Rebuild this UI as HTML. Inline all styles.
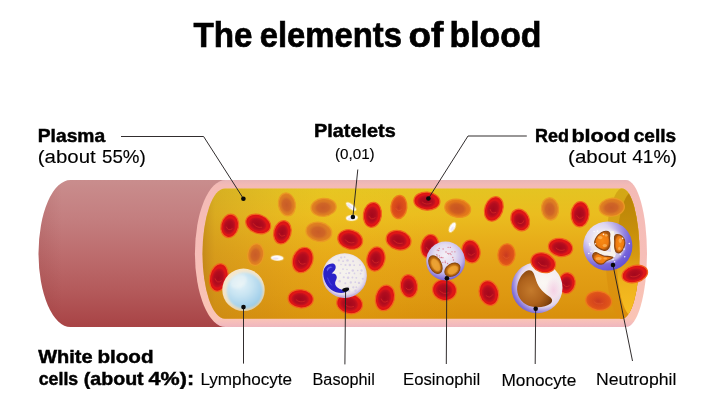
<!DOCTYPE html>
<html><head><meta charset="utf-8"><title>The elements of blood</title>
<style>
html,body{margin:0;padding:0;background:#fff;}
body{width:714px;height:410px;overflow:hidden;font-family:"Liberation Sans",sans-serif;}
svg{display:block;}
text{font-family:"Liberation Sans",sans-serif;fill:#000;}
.b{font-weight:bold;stroke:#000;stroke-width:0.45px;}
.t{stroke-width:0.7px;}
.r{stroke:#000;stroke-width:0.12px;}
</style></head><body>
<svg width="714" height="410" viewBox="0 0 714 410">
<defs>
<linearGradient id="gTube" x1="0" y1="0" x2="0" y2="1">
 <stop offset="0" stop-color="#c98d8d"/><stop offset="0.25" stop-color="#c47f80"/>
 <stop offset="0.5" stop-color="#bd6d6e"/><stop offset="0.75" stop-color="#b45a5b"/>
 <stop offset="1" stop-color="#a84345"/>
</linearGradient>
<linearGradient id="gTubeL" x1="0" y1="0" x2="1" y2="0">
 <stop offset="0" stop-color="#7a2020" stop-opacity="0.12"/><stop offset="0.12" stop-color="#7a2020" stop-opacity="0"/>
</linearGradient>
<linearGradient id="gPink" x1="0" y1="0" x2="0" y2="1">
 <stop offset="0" stop-color="#e9b5b7"/><stop offset="0.035" stop-color="#f4bab5"/><stop offset="0.5" stop-color="#f6beb8"/>
 <stop offset="0.945" stop-color="#fac4b4"/><stop offset="0.975" stop-color="#f4bcbc"/><stop offset="1" stop-color="#eeb6be"/>
</linearGradient>
<linearGradient id="gPlasma" x1="0" y1="0" x2="0" y2="1">
 <stop offset="0" stop-color="#e4c422"/><stop offset="0.2" stop-color="#eabd1f"/>
 <stop offset="0.42" stop-color="#e7ac19"/><stop offset="0.62" stop-color="#e3a015"/>
 <stop offset="0.82" stop-color="#de9811"/><stop offset="1" stop-color="#d88f0b"/>
</linearGradient>
<linearGradient id="gPlasmaL" x1="0" y1="0" x2="1" y2="0">
 <stop offset="0" stop-color="#a8701c" stop-opacity="0.55"/><stop offset="0.05" stop-color="#b88422" stop-opacity="0.32"/><stop offset="0.25" stop-color="#c89428" stop-opacity="0.16"/>
 <stop offset="0.5" stop-color="#ffd820" stop-opacity="0.10"/><stop offset="1" stop-color="#ffd820" stop-opacity="0"/>
</linearGradient>
<linearGradient id="gCres" x1="0" y1="0" x2="0" y2="1">
 <stop offset="0" stop-color="#b88407"/><stop offset="0.3" stop-color="#c68e0a"/><stop offset="0.52" stop-color="#d69a10"/>
 <stop offset="0.72" stop-color="#eeb21c"/><stop offset="1" stop-color="#f8be22"/>
</linearGradient>
<linearGradient id="gCres1" x1="0" y1="0" x2="0" y2="1">
 <stop offset="0" stop-color="#d2a816"/><stop offset="0.3" stop-color="#d8a014"/>
 <stop offset="0.6" stop-color="#dc9510"/><stop offset="1" stop-color="#db8e0c"/>
</linearGradient>
<linearGradient id="gCresH" x1="0" y1="0" x2="1" y2="0">
 <stop offset="0" stop-color="#f8c830" stop-opacity="0.0"/><stop offset="0.55" stop-color="#f8c830" stop-opacity="0.0"/>
 <stop offset="1" stop-color="#ffd040" stop-opacity="0.45"/>
</linearGradient>
<radialGradient id="gR" cx="0.5" cy="0.5" r="0.5">
 <stop offset="0" stop-color="#d41618"/><stop offset="0.75" stop-color="#e01616"/><stop offset="1" stop-color="#da1212"/>
</radialGradient>
<radialGradient id="gRi" cx="0.5" cy="0.5" r="0.5">
 <stop offset="0" stop-color="#a4081c"/><stop offset="0.6" stop-color="#b20c1e"/><stop offset="0.85" stop-color="#c4101e" stop-opacity="0.85"/><stop offset="1" stop-color="#d8181c" stop-opacity="0"/>
</radialGradient>
<radialGradient id="gO" cx="0.5" cy="0.5" r="0.5">
 <stop offset="0" stop-color="#d47224"/><stop offset="0.8" stop-color="#de7c22"/><stop offset="1" stop-color="#e48620"/>
</radialGradient>
<radialGradient id="gOi" cx="0.5" cy="0.5" r="0.5">
 <stop offset="0" stop-color="#c85c28"/><stop offset="0.65" stop-color="#cf6426" stop-opacity="0.95"/><stop offset="0.9" stop-color="#d67426" stop-opacity="0.6"/><stop offset="1" stop-color="#dc7e26" stop-opacity="0"/>
</radialGradient>
<radialGradient id="gV" cx="0.5" cy="0.5" r="0.5">
 <stop offset="0" stop-color="#d8681e"/><stop offset="0.8" stop-color="#e2761a"/><stop offset="1" stop-color="#e6801a"/>
</radialGradient>
<radialGradient id="gVi" cx="0.5" cy="0.5" r="0.5">
 <stop offset="0" stop-color="#c85422"/><stop offset="0.65" stop-color="#ce5c20" stop-opacity="0.95"/><stop offset="0.9" stop-color="#d8681e" stop-opacity="0.6"/><stop offset="1" stop-color="#e0721c" stop-opacity="0"/>
</radialGradient>
<radialGradient id="gM" cx="0.5" cy="0.5" r="0.5">
 <stop offset="0" stop-color="#d8481c"/><stop offset="0.75" stop-color="#de501a"/><stop offset="1" stop-color="#e2601a"/>
</radialGradient>
<radialGradient id="gMi" cx="0.5" cy="0.5" r="0.5">
 <stop offset="0" stop-color="#c83a20"/><stop offset="1" stop-color="#d8481c" stop-opacity="0"/>
</radialGradient>
<!-- white cells -->
<radialGradient id="gLymO" cx="0.45" cy="0.4" r="0.6">
 <stop offset="0" stop-color="#fbf3e2"/><stop offset="0.8" stop-color="#f3e2c4"/><stop offset="1" stop-color="#e9cfa0"/>
</radialGradient>
<radialGradient id="gLymN" cx="0.38" cy="0.32" r="0.75">
 <stop offset="0" stop-color="#e4f2f8"/><stop offset="0.45" stop-color="#c6e3f2"/><stop offset="0.85" stop-color="#a3d0ea"/><stop offset="1" stop-color="#8fc2e2"/>
</radialGradient>
<radialGradient id="gBas" cx="0.5" cy="0.45" r="0.52">
 <stop offset="0" stop-color="#f6f3ee"/><stop offset="0.8" stop-color="#f1ece9"/><stop offset="0.93" stop-color="#ddd2e8"/><stop offset="1" stop-color="#c4b4de"/>
</radialGradient>
<radialGradient id="gEos" cx="0.48" cy="0.35" r="0.68">
 <stop offset="0" stop-color="#f4f0f6"/><stop offset="0.4" stop-color="#e4dcf0"/><stop offset="0.68" stop-color="#c2b5e9"/><stop offset="0.87" stop-color="#8b79db"/><stop offset="1" stop-color="#6653ce"/>
</radialGradient>
<radialGradient id="gEosN" cx="0.5" cy="0.5" r="0.5">
 <stop offset="0" stop-color="#f0b040"/><stop offset="0.5" stop-color="#dc8c1c"/><stop offset="0.82" stop-color="#a85c10"/><stop offset="1" stop-color="#763c08"/>
</radialGradient>
<radialGradient id="gMon" cx="0.62" cy="0.4" r="0.66">
 <stop offset="0" stop-color="#fbf8f4"/><stop offset="0.55" stop-color="#f4ecef"/><stop offset="0.72" stop-color="#e0d3ec"/><stop offset="0.84" stop-color="#a999e2"/><stop offset="0.93" stop-color="#8574d8"/><stop offset="1" stop-color="#7260d2"/>
</radialGradient>
<radialGradient id="gMonN" cx="0.4" cy="0.55" r="0.65">
 <stop offset="0" stop-color="#c47a2c"/><stop offset="0.55" stop-color="#ae621c"/><stop offset="0.85" stop-color="#8c4a10"/><stop offset="1" stop-color="#74390a"/>
</radialGradient>
<radialGradient id="gNeu" cx="0.32" cy="0.28" r="0.85">
 <stop offset="0" stop-color="#f3eff8"/><stop offset="0.3" stop-color="#ddd5f1"/><stop offset="0.52" stop-color="#a99be5"/><stop offset="0.72" stop-color="#7a68dc"/><stop offset="1" stop-color="#5a48d0"/>
</radialGradient>
<radialGradient id="gNeuN" cx="0.5" cy="0.5" r="0.5">
 <stop offset="0" stop-color="#f88a14"/><stop offset="0.75" stop-color="#ee7a10"/><stop offset="1" stop-color="#a8540e"/>
</radialGradient>
<filter id="fB1" x="-20%" y="-20%" width="140%" height="140%"><feGaussianBlur stdDeviation="0.9"/></filter>
<filter id="fB05" x="-20%" y="-20%" width="140%" height="140%"><feGaussianBlur stdDeviation="0.45"/></filter>
<radialGradient id="gMonPink" cx="0.5" cy="0.5" r="0.5"><stop offset="0" stop-color="#f4b8dc" stop-opacity="0.55"/><stop offset="1" stop-color="#f4b8dc" stop-opacity="0"/></radialGradient>
<clipPath id="cpPlasma"><path id="plasmaPath" d="M225,188.4 L622,188.4 A17.5,65.2 0 0 1 622,318.8 L225,318.8 A22.5,65.2 0 0 1 225,188.4 Z"/></clipPath>
</defs>

<path d="M70.5,180.0 L232,180.0 L232,327.0 L70.5,327.0 A32,73.5 0 0 1 70.5,180.0 Z" fill="url(#gTube)"/>
<path d="M70.5,180.0 L232,180.0 L232,327.0 L70.5,327.0 A32,73.5 0 0 1 70.5,180.0 Z" fill="url(#gTubeL)"/>
<path d="M225.5,180.0 L626,180.0 A21,73.5 0 0 1 626,327.0 L225.5,327.0 A30.6,73.5 0 0 1 225.5,180.0 Z" fill="url(#gPink)"/>
<path d="M225,188.4 L622,188.4 A17.5,65.2 0 0 1 622,318.8 L225,318.8 A22.5,65.2 0 0 1 225,188.4 Z" fill="url(#gPlasma)"/>
<g clip-path="url(#cpPlasma)">
<rect x="202" y="188.4" width="260" height="130.4" fill="url(#gPlasmaL)"/>
<ellipse cx="623.5" cy="253.60000000000002" rx="18" ry="66.2" fill="url(#gCres1)"/>
<ellipse cx="633" cy="254.10000000000002" rx="16.5" ry="62.7" fill="url(#gCres)"/>
</g>
<g id="cells-back">
<g transform="translate(218.8 277.5) rotate(12)"><ellipse rx="9.2" ry="14.0" fill="url(#gR)" stroke="#f2641e" stroke-width="1.25"/><ellipse cx="-0.4" cy="0.6" rx="7.0" ry="10.6" fill="url(#gRi)"/><path d="M-3.5,1.7 Q-0.5,7.0 3.5,2.5" fill="none" stroke="#f03a2a" stroke-width="0.9" opacity="0.45"/></g>
<g transform="translate(349.6 303.7) rotate(12)"><ellipse rx="13.0" ry="10.0" fill="url(#gR)" stroke="#f2641e" stroke-width="1.25"/><ellipse cx="-0.5" cy="0.4" rx="9.9" ry="7.6" fill="url(#gRi)"/><path d="M-4.9,1.2 Q-0.7,5.0 4.9,1.8" fill="none" stroke="#f03a2a" stroke-width="0.9" opacity="0.45"/></g>
<g transform="translate(429.8 246.4) rotate(10)"><ellipse rx="8.8" ry="12.0" fill="url(#gR)" stroke="#f2641e" stroke-width="1.25"/><ellipse cx="-0.4" cy="0.5" rx="6.7" ry="9.1" fill="url(#gRi)"/><path d="M-3.3,1.4 Q-0.4,6.0 3.3,2.2" fill="none" stroke="#f03a2a" stroke-width="0.9" opacity="0.45"/></g>
<g transform="translate(471.0 251.5) rotate(-12)"><ellipse rx="9.0" ry="11.5" fill="url(#gR)" stroke="#f2641e" stroke-width="1.25"/><ellipse cx="-0.4" cy="0.5" rx="6.8" ry="8.7" fill="url(#gRi)"/><path d="M-3.4,1.4 Q-0.5,5.8 3.4,2.1" fill="none" stroke="#f03a2a" stroke-width="0.9" opacity="0.45"/></g>
<g transform="translate(444.5 290.0) rotate(10)"><ellipse rx="12.0" ry="10.5" fill="url(#gR)" stroke="#f2641e" stroke-width="1.25"/><ellipse cx="-0.5" cy="0.4" rx="9.1" ry="8.0" fill="url(#gRi)"/><path d="M-4.6,1.3 Q-0.6,5.2 4.6,1.9" fill="none" stroke="#f03a2a" stroke-width="0.9" opacity="0.45"/></g>
<g transform="translate(566.7 283.2) rotate(10)"><ellipse rx="8.5" ry="10.5" fill="url(#gR)" stroke="#f2641e" stroke-width="1.25"/><ellipse cx="-0.3" cy="0.4" rx="6.5" ry="8.0" fill="url(#gRi)"/><path d="M-3.2,1.3 Q-0.4,5.2 3.2,1.9" fill="none" stroke="#f03a2a" stroke-width="0.9" opacity="0.45"/></g>
</g>
<g id="cells">
<g transform="translate(229.7 225.9) rotate(12)"><ellipse rx="8.8" ry="11.8" fill="url(#gR)" stroke="#f2641e" stroke-width="1.25"/><ellipse cx="-0.4" cy="0.5" rx="6.7" ry="9.0" fill="url(#gRi)"/><path d="M-3.3,1.4 Q-0.4,5.9 3.3,2.1" fill="none" stroke="#f03a2a" stroke-width="0.9" opacity="0.45"/></g>
<g transform="translate(258.2 224.0) rotate(20)"><ellipse rx="12.8" ry="9.3" fill="url(#gR)" stroke="#f2641e" stroke-width="1.25"/><ellipse cx="-0.5" cy="0.4" rx="9.7" ry="7.1" fill="url(#gRi)"/><path d="M-4.9,1.1 Q-0.6,4.7 4.9,1.7" fill="none" stroke="#f03a2a" stroke-width="0.9" opacity="0.45"/></g>
<g transform="translate(282.4 232.3) rotate(14)"><ellipse rx="8.6" ry="11.8" fill="url(#gR)" stroke="#f2641e" stroke-width="1.25"/><ellipse cx="-0.3" cy="0.5" rx="6.5" ry="9.0" fill="url(#gRi)"/><path d="M-3.3,1.4 Q-0.4,5.9 3.3,2.1" fill="none" stroke="#f03a2a" stroke-width="0.9" opacity="0.45"/></g>
<g transform="translate(286.9 204.4) rotate(-10)"><ellipse rx="8.5" ry="11.5" fill="url(#gO)" stroke="#ea9a24" stroke-width="1.25"/><ellipse cx="-0.3" cy="0.5" rx="6.5" ry="8.7" fill="url(#gOi)"/></g>
<g transform="translate(255.7 254.6) rotate(8)"><ellipse rx="8.0" ry="11.0" fill="url(#gO)" stroke="#ea9a24" stroke-width="1.25"/><ellipse cx="-0.3" cy="0.4" rx="6.1" ry="8.4" fill="url(#gOi)"/></g>
<g transform="translate(323.6 207.3) rotate(-5)"><ellipse rx="12.6" ry="9.0" fill="url(#gO)" stroke="#ea9a24" stroke-width="1.25"/><ellipse cx="-0.5" cy="0.4" rx="9.6" ry="6.8" fill="url(#gOi)"/></g>
<g transform="translate(318.9 231.8) rotate(10)"><ellipse rx="13.0" ry="9.6" fill="url(#gO)" stroke="#ea9a24" stroke-width="1.25"/><ellipse cx="-0.5" cy="0.4" rx="9.9" ry="7.3" fill="url(#gOi)"/></g>
<g transform="translate(372.4 214.8) rotate(8)"><ellipse rx="9.0" ry="12.6" fill="url(#gR)" stroke="#f2641e" stroke-width="1.25"/><ellipse cx="-0.4" cy="0.5" rx="6.8" ry="9.6" fill="url(#gRi)"/><path d="M-3.4,1.5 Q-0.5,6.3 3.4,2.3" fill="none" stroke="#f03a2a" stroke-width="0.9" opacity="0.45"/></g>
<g transform="translate(350.2 239.6) rotate(15)"><ellipse rx="12.6" ry="9.6" fill="url(#gR)" stroke="#f2641e" stroke-width="1.25"/><ellipse cx="-0.5" cy="0.4" rx="9.6" ry="7.3" fill="url(#gRi)"/><path d="M-4.8,1.2 Q-0.6,4.8 4.8,1.7" fill="none" stroke="#f03a2a" stroke-width="0.9" opacity="0.45"/></g>
<g transform="translate(302.7 260.0) rotate(20)"><ellipse rx="10.0" ry="13.0" fill="url(#gR)" stroke="#f2641e" stroke-width="1.25"/><ellipse cx="-0.4" cy="0.5" rx="7.6" ry="9.9" fill="url(#gRi)"/><path d="M-3.8,1.6 Q-0.5,6.5 3.8,2.3" fill="none" stroke="#f03a2a" stroke-width="0.9" opacity="0.45"/></g>
<g transform="translate(375.9 259.0) rotate(12)"><ellipse rx="9.0" ry="12.2" fill="url(#gR)" stroke="#f2641e" stroke-width="1.25"/><ellipse cx="-0.4" cy="0.5" rx="6.8" ry="9.3" fill="url(#gRi)"/><path d="M-3.4,1.5 Q-0.5,6.1 3.4,2.2" fill="none" stroke="#f03a2a" stroke-width="0.9" opacity="0.45"/></g>
<g transform="translate(300.7 298.8) rotate(5)"><ellipse rx="12.6" ry="9.2" fill="url(#gR)" stroke="#f2641e" stroke-width="1.25"/><ellipse cx="-0.5" cy="0.4" rx="9.6" ry="7.0" fill="url(#gRi)"/><path d="M-4.8,1.1 Q-0.6,4.6 4.8,1.7" fill="none" stroke="#f03a2a" stroke-width="0.9" opacity="0.45"/></g>
<g transform="translate(385.0 297.9) rotate(14)"><ellipse rx="9.4" ry="13.0" fill="url(#gR)" stroke="#f2641e" stroke-width="1.25"/><ellipse cx="-0.4" cy="0.5" rx="7.1" ry="9.9" fill="url(#gRi)"/><path d="M-3.6,1.6 Q-0.5,6.5 3.6,2.3" fill="none" stroke="#f03a2a" stroke-width="0.9" opacity="0.45"/></g>
<g transform="translate(398.9 207.0) rotate(6)"><ellipse rx="8.0" ry="11.6" fill="url(#gM)" stroke="#ee7a1c" stroke-width="1.25"/><ellipse cx="-0.3" cy="0.5" rx="6.1" ry="8.8" fill="url(#gMi)"/><path d="M-3.0,1.4 Q-0.4,5.8 3.0,2.1" fill="none" stroke="#f0703a" stroke-width="0.9" opacity="0.3"/></g>
<g transform="translate(426.9 201.1) rotate(4)"><ellipse rx="13.0" ry="9.0" fill="url(#gR)" stroke="#f2641e" stroke-width="1.25"/><ellipse cx="-0.5" cy="0.4" rx="9.9" ry="6.8" fill="url(#gRi)"/><path d="M-4.9,1.1 Q-0.7,4.5 4.9,1.6" fill="none" stroke="#f03a2a" stroke-width="0.9" opacity="0.45"/></g>
<g transform="translate(457.7 208.3) rotate(10)"><ellipse rx="13.0" ry="9.0" fill="url(#gV)" stroke="#ec9020" stroke-width="1.25"/><ellipse cx="-0.5" cy="0.4" rx="9.9" ry="6.8" fill="url(#gVi)"/></g>
<g transform="translate(398.6 240.2) rotate(15)"><ellipse rx="12.6" ry="9.6" fill="url(#gR)" stroke="#f2641e" stroke-width="1.25"/><ellipse cx="-0.5" cy="0.4" rx="9.6" ry="7.3" fill="url(#gRi)"/><path d="M-4.8,1.2 Q-0.6,4.8 4.8,1.7" fill="none" stroke="#f03a2a" stroke-width="0.9" opacity="0.45"/></g>
<g transform="translate(408.9 286.1) rotate(-6)"><ellipse rx="8.6" ry="11.6" fill="url(#gR)" stroke="#f2641e" stroke-width="1.25"/><ellipse cx="-0.3" cy="0.5" rx="6.5" ry="8.8" fill="url(#gRi)"/><path d="M-3.3,1.4 Q-0.4,5.8 3.3,2.1" fill="none" stroke="#f03a2a" stroke-width="0.9" opacity="0.45"/></g>
<g transform="translate(493.8 208.9) rotate(20)"><ellipse rx="9.0" ry="12.6" fill="url(#gR)" stroke="#f2641e" stroke-width="1.25"/><ellipse cx="-0.4" cy="0.5" rx="6.8" ry="9.6" fill="url(#gRi)"/><path d="M-3.4,1.5 Q-0.5,6.3 3.4,2.3" fill="none" stroke="#f03a2a" stroke-width="0.9" opacity="0.45"/></g>
<g transform="translate(520.2 220.0) rotate(-25)"><ellipse rx="9.0" ry="11.2" fill="url(#gR)" stroke="#f2641e" stroke-width="1.25"/><ellipse cx="-0.4" cy="0.4" rx="6.8" ry="8.5" fill="url(#gRi)"/><path d="M-3.4,1.3 Q-0.5,5.6 3.4,2.0" fill="none" stroke="#f03a2a" stroke-width="0.9" opacity="0.45"/></g>
<g transform="translate(550.0 208.9) rotate(-6)"><ellipse rx="8.5" ry="11.2" fill="url(#gO)" stroke="#ea9a24" stroke-width="1.25"/><ellipse cx="-0.3" cy="0.4" rx="6.5" ry="8.5" fill="url(#gOi)"/></g>
<g transform="translate(560.5 247.4) rotate(10)"><ellipse rx="12.2" ry="9.0" fill="url(#gR)" stroke="#f2641e" stroke-width="1.25"/><ellipse cx="-0.5" cy="0.4" rx="9.3" ry="6.8" fill="url(#gRi)"/><path d="M-4.6,1.1 Q-0.6,4.5 4.6,1.6" fill="none" stroke="#f03a2a" stroke-width="0.9" opacity="0.45"/></g>
<g transform="translate(506.5 254.8) rotate(6)"><ellipse rx="8.5" ry="11.0" fill="url(#gM)" stroke="#ee7a1c" stroke-width="1.25"/><ellipse cx="-0.3" cy="0.4" rx="6.5" ry="8.4" fill="url(#gMi)"/><path d="M-3.2,1.3 Q-0.4,5.5 3.2,2.0" fill="none" stroke="#f0703a" stroke-width="0.9" opacity="0.3"/></g>
<g transform="translate(488.9 293.0) rotate(-15)"><ellipse rx="9.6" ry="12.6" fill="url(#gR)" stroke="#f2641e" stroke-width="1.25"/><ellipse cx="-0.4" cy="0.5" rx="7.3" ry="9.6" fill="url(#gRi)"/><path d="M-3.6,1.5 Q-0.5,6.3 3.6,2.3" fill="none" stroke="#f03a2a" stroke-width="0.9" opacity="0.45"/></g>
<g transform="translate(580.1 214.2) rotate(4)"><ellipse rx="9.0" ry="12.6" fill="url(#gR)" stroke="#f2641e" stroke-width="1.25"/><ellipse cx="-0.4" cy="0.5" rx="6.8" ry="9.6" fill="url(#gRi)"/><path d="M-3.4,1.5 Q-0.5,6.3 3.4,2.3" fill="none" stroke="#f03a2a" stroke-width="0.9" opacity="0.45"/></g>
<g transform="translate(611.8 207.3) rotate(-6)"><ellipse rx="12.6" ry="9.0" fill="url(#gO)" stroke="#ea9a24" stroke-width="1.25"/><ellipse cx="-0.5" cy="0.4" rx="9.6" ry="6.8" fill="url(#gOi)"/></g>
<g transform="translate(598.7 300.8) rotate(8)"><ellipse rx="13.0" ry="9.6" fill="url(#gM)" stroke="#ee7a1c" stroke-width="1.25"/><ellipse cx="-0.5" cy="0.4" rx="9.9" ry="7.3" fill="url(#gMi)"/><path d="M-4.9,1.2 Q-0.7,4.8 4.9,1.7" fill="none" stroke="#f0703a" stroke-width="0.9" opacity="0.3"/></g>
</g>
<g id="platelets">
<g transform="translate(351.1 206.6) rotate(38)" filter="url(#fB05)"><ellipse rx="6.5" ry="2.7" fill="#fff4d0" opacity="0.55"/><ellipse rx="6.0" ry="2.2" fill="#fdfcfd"/><ellipse cx="-1.5" cy="0.6" rx="3.0" ry="1.0" fill="#e6dcf4" opacity="0.8"/></g>
<g transform="translate(351.9 217.9) rotate(-5)" filter="url(#fB05)"><ellipse rx="6.3" ry="3.2" fill="#fff4d0" opacity="0.55"/><ellipse rx="5.8" ry="2.7" fill="#fdfcfd"/><ellipse cx="-1.4" cy="0.7" rx="2.9" ry="1.2" fill="#e6dcf4" opacity="0.8"/></g>
<g transform="translate(277.2 258.0) rotate(3)" filter="url(#fB05)"><ellipse rx="6.7" ry="3.0" fill="#fff4d0" opacity="0.55"/><ellipse rx="6.2" ry="2.5" fill="#fdfcfd"/><ellipse cx="-1.6" cy="0.6" rx="3.1" ry="1.1" fill="#e6dcf4" opacity="0.8"/></g>
<g transform="translate(452.3 227.4) rotate(-61)" filter="url(#fB05)"><ellipse rx="5.8" ry="3.0" fill="#fff4d0" opacity="0.55"/><ellipse rx="5.3" ry="2.5" fill="#fdfcfd"/><ellipse cx="-1.3" cy="0.6" rx="2.6" ry="1.1" fill="#e6dcf4" opacity="0.8"/></g>
</g>
<g id="lymphocyte">
<circle cx="243.5" cy="289.8" r="21.2" fill="url(#gLymO)"/>
<circle cx="244.8" cy="290.8" r="18.2" fill="url(#gLymN)" filter="url(#fB1)"/>
<ellipse cx="238.5" cy="281.5" rx="9" ry="6.5" fill="#f4f8f6" opacity="0.45" filter="url(#fB1)" transform="rotate(-30 238.5 281.5)"/>
</g>
<g id="basophil">
<circle cx="344.6" cy="275.6" r="22.3" fill="url(#gBas)"/>
<circle cx="341.2" cy="257.6" r="1.14" fill="#cfc4e6" opacity="0.75"/><circle cx="344.6" cy="257.1" r="0.92" fill="#cfc4e6" opacity="0.75"/><circle cx="338.8" cy="260.4" r="1.07" fill="#cfc4e6" opacity="0.75"/><circle cx="343.1" cy="261.2" r="0.88" fill="#cfc4e6" opacity="0.75"/><circle cx="347.5" cy="260.4" r="1.22" fill="#cfc4e6" opacity="0.75"/><circle cx="353.1" cy="261.3" r="0.94" fill="#cfc4e6" opacity="0.75"/><circle cx="341.0" cy="264.5" r="0.82" fill="#cfc4e6" opacity="0.75"/><circle cx="345.5" cy="265.0" r="1.04" fill="#cfc4e6" opacity="0.75"/><circle cx="349.9" cy="265.1" r="1.25" fill="#cfc4e6" opacity="0.75"/><circle cx="354.2" cy="265.2" r="0.89" fill="#cfc4e6" opacity="0.75"/><circle cx="359.9" cy="265.0" r="0.96" fill="#cfc4e6" opacity="0.75"/><circle cx="343.0" cy="269.1" r="0.95" fill="#cfc4e6" opacity="0.75"/><circle cx="347.0" cy="269.5" r="0.82" fill="#cfc4e6" opacity="0.75"/><circle cx="352.8" cy="270.4" r="1.23" fill="#cfc4e6" opacity="0.75"/><circle cx="357.7" cy="270.5" r="0.81" fill="#cfc4e6" opacity="0.75"/><circle cx="361.6" cy="270.5" r="1.15" fill="#cfc4e6" opacity="0.75"/><circle cx="340.3" cy="273.1" r="0.97" fill="#cfc4e6" opacity="0.75"/><circle cx="346.1" cy="273.5" r="0.80" fill="#cfc4e6" opacity="0.75"/><circle cx="349.1" cy="273.1" r="1.15" fill="#cfc4e6" opacity="0.75"/><circle cx="354.5" cy="273.4" r="0.84" fill="#cfc4e6" opacity="0.75"/><circle cx="360.6" cy="273.6" r="0.89" fill="#cfc4e6" opacity="0.75"/><circle cx="343.8" cy="277.2" r="1.04" fill="#cfc4e6" opacity="0.75"/><circle cx="348.1" cy="277.8" r="1.24" fill="#cfc4e6" opacity="0.75"/><circle cx="352.4" cy="277.5" r="0.98" fill="#cfc4e6" opacity="0.75"/><circle cx="356.3" cy="277.8" r="0.91" fill="#cfc4e6" opacity="0.75"/><circle cx="362.8" cy="278.7" r="1.02" fill="#cfc4e6" opacity="0.75"/><circle cx="339.7" cy="281.3" r="1.22" fill="#cfc4e6" opacity="0.75"/><circle cx="345.3" cy="283.2" r="0.98" fill="#cfc4e6" opacity="0.75"/><circle cx="350.8" cy="282.5" r="1.16" fill="#cfc4e6" opacity="0.75"/><circle cx="355.3" cy="282.2" r="0.84" fill="#cfc4e6" opacity="0.75"/><circle cx="359.0" cy="282.9" r="1.20" fill="#cfc4e6" opacity="0.75"/><circle cx="348.4" cy="287.3" r="0.83" fill="#cfc4e6" opacity="0.75"/><circle cx="353.3" cy="287.3" r="1.10" fill="#cfc4e6" opacity="0.75"/><circle cx="356.3" cy="287.2" r="0.86" fill="#cfc4e6" opacity="0.75"/><circle cx="346.0" cy="289.6" r="1.19" fill="#cfc4e6" opacity="0.75"/><circle cx="349.2" cy="291.2" r="1.15" fill="#cfc4e6" opacity="0.75"/><circle cx="355.6" cy="290.7" r="1.20" fill="#cfc4e6" opacity="0.75"/>
<path d="M329.6,264.0 C333.4,262.4 336.4,264.6 335.6,268.2 C335.0,270.6 333.0,272.0 331.6,273.6 C334.4,273.0 337.0,274.6 336.8,277.6 C336.6,280.2 334.6,281.6 335.2,284.2 C336.2,288.0 341.0,290.2 348.6,290.6 C344.6,294.0 336.6,293.6 331.6,290.0 C325.8,285.8 322.6,277.8 323.4,271.4 C324.0,267.4 326.2,265.2 329.6,264.0 Z" fill="#2a22c8"/>
<path d="M326.6,269.4 C327.8,266.8 330.6,265.8 332.6,267.2 C330.4,267.6 328.4,269.0 327.4,271.4 Z" fill="#6a6af0" opacity="0.85"/>
<path d="M327.4,277.6 C328.8,280.6 329.4,283.0 331.8,285.4" fill="none" stroke="#5c5cf0" stroke-width="0.9" opacity="0.7"/>
</g>
<g id="eosinophil">
<circle cx="445.6" cy="261.0" r="19.4" fill="url(#gEos)"/>
<circle cx="443.1" cy="249.0" r="0.65" fill="#d4627a" opacity="0.8"/><circle cx="450.3" cy="247.4" r="0.65" fill="#d4627a" opacity="0.8"/><circle cx="447.8" cy="253.3" r="0.65" fill="#d4627a" opacity="0.8"/><circle cx="437.3" cy="256.1" r="0.65" fill="#d4627a" opacity="0.8"/><circle cx="436.8" cy="254.7" r="0.65" fill="#d4627a" opacity="0.8"/><circle cx="445.3" cy="262.5" r="0.65" fill="#d4627a" opacity="0.8"/><circle cx="438.7" cy="250.5" r="0.65" fill="#d4627a" opacity="0.8"/><circle cx="449.8" cy="265.0" r="0.65" fill="#d4627a" opacity="0.8"/><circle cx="448.7" cy="253.9" r="0.65" fill="#d4627a" opacity="0.8"/><circle cx="454.9" cy="251.8" r="0.65" fill="#d4627a" opacity="0.8"/><circle cx="439.2" cy="248.4" r="0.65" fill="#d4627a" opacity="0.8"/><circle cx="442.8" cy="262.3" r="0.65" fill="#d4627a" opacity="0.8"/><circle cx="440.0" cy="257.6" r="0.65" fill="#d4627a" opacity="0.8"/><circle cx="450.1" cy="253.4" r="0.65" fill="#d4627a" opacity="0.8"/><circle cx="448.1" cy="247.3" r="0.65" fill="#d4627a" opacity="0.8"/><circle cx="437.3" cy="250.1" r="0.65" fill="#d4627a" opacity="0.8"/><circle cx="451.0" cy="254.6" r="0.65" fill="#d4627a" opacity="0.8"/><circle cx="442.9" cy="257.7" r="0.65" fill="#d4627a" opacity="0.8"/><circle cx="446.0" cy="252.0" r="0.65" fill="#d4627a" opacity="0.8"/><circle cx="453.5" cy="260.0" r="0.65" fill="#d4627a" opacity="0.8"/><circle cx="441.4" cy="257.5" r="0.65" fill="#d4627a" opacity="0.8"/><circle cx="447.6" cy="263.5" r="0.65" fill="#d4627a" opacity="0.8"/><circle cx="452.0" cy="251.8" r="0.65" fill="#d4627a" opacity="0.8"/><circle cx="445.2" cy="261.1" r="0.65" fill="#d4627a" opacity="0.8"/><circle cx="439.3" cy="255.8" r="0.65" fill="#d4627a" opacity="0.8"/><circle cx="436.9" cy="259.4" r="0.65" fill="#d4627a" opacity="0.8"/><circle cx="452.8" cy="257.5" r="0.65" fill="#d4627a" opacity="0.8"/>
<g transform="translate(435.4 264.6) rotate(-27)"><ellipse rx="6.3" ry="10.0" fill="url(#gEosN)"/><ellipse cx="0.2" cy="0.6" rx="3.6" ry="6.8" fill="#eca234" opacity="0.85" filter="url(#fB05)"/></g>
<g transform="translate(452.4 269.8) rotate(-33)"><ellipse rx="8.8" ry="6.4" fill="url(#gEosN)"/><ellipse cx="0.2" cy="0.6" rx="5.6" ry="3.6" fill="#eca234" opacity="0.85" filter="url(#fB05)"/></g>
</g>
<g id="monocyte">
<circle cx="537.0" cy="287.8" r="25.5" fill="url(#gMon)"/>
<ellipse cx="553.5" cy="290" rx="8" ry="13" fill="url(#gMonPink)"/>
<path d="M528.6,270.2 C532.4,269.6 534.0,273.0 535.4,278.0 C537.4,285.6 541.6,291.6 549.2,296.4 C552.6,298.6 553.0,301.2 550.6,303.4 C545.6,307.6 533.4,308.6 526.2,304.6 C518.6,300.4 515.6,291.6 517.8,283.6 C519.6,277.0 523.8,271.2 528.6,270.2 Z" fill="url(#gMonN)"/>
</g>
<g id="neutrophil">
<circle cx="607.8" cy="246.0" r="24.6" fill="url(#gNeu)"/>
<ellipse cx="607.6" cy="245.6" rx="17.5" ry="16.5" fill="#f6f1ee" opacity="0.6" filter="url(#fB1)"/>
<path d="M611.0,231.6 L613.4,231.8 L614.0,246 L615.2,254.8 L613.6,256.6 L604,254.2 L594.4,252.6 L594.8,250.6 L604.4,251.6 L611.6,252.6 L611.2,244 Z" fill="#f8f3ea" stroke="#f8f3ea" stroke-width="1.2" stroke-linejoin="round"/>
<path d="M594.7,241.4 Q595.2,239.3 596.7,237.0 Q598.2,234.7 600.8,233.1 Q603.4,231.6 605.7,231.3 Q608.0,231.1 609.1,232.4 Q610.2,233.7 609.7,236.0 Q609.1,238.3 609.7,240.6 Q610.2,242.9 609.7,245.4 Q609.2,248.0 607.5,249.4 Q605.9,250.8 603.6,250.2 Q601.3,249.6 599.0,248.3 Q596.7,247.0 595.5,245.2 Q594.2,243.4 594.7,241.4 Z" fill="url(#gNeuN)" stroke="#8a4610" stroke-width="1.1" stroke-linejoin="round"/>
<path d="M614.5,238.6 Q614.1,235.7 615.9,234.8 Q617.7,234.0 620.0,235.1 Q622.3,236.2 623.7,238.2 Q625.1,240.3 624.9,242.9 Q624.6,245.5 623.5,248.1 Q622.5,250.6 620.6,252.0 Q618.7,253.4 617.1,252.5 Q615.5,251.6 615.0,249.1 Q614.4,246.5 614.7,243.9 Q615.0,241.4 614.5,238.6 Z" fill="url(#gNeuN)" stroke="#8a4610" stroke-width="1.1" stroke-linejoin="round"/>
<path d="M592.8,254.9 Q593.1,253.2 594.7,252.7 Q596.2,252.2 598.0,253.4 Q599.8,254.7 602.1,255.4 Q604.4,256.2 607.2,256.4 Q610.0,256.7 611.9,257.0 Q613.8,257.3 611.9,258.3 Q610.0,259.3 608.0,260.1 Q605.9,260.8 604.6,262.5 Q603.4,264.1 601.1,264.2 Q598.8,264.3 596.8,262.8 Q594.7,261.3 593.5,259.0 Q592.4,256.7 592.8,254.9 Z" fill="url(#gNeuN)" stroke="#8a4610" stroke-width="1.1" stroke-linejoin="round"/>
<g fill="#fbb458" opacity="0.8" filter="url(#fB05)"><ellipse cx="600.2" cy="237.6" rx="2.4" ry="1.6"/><ellipse cx="604.8" cy="245.6" rx="2.2" ry="1.5"/><ellipse cx="606.2" cy="235.2" rx="1.4" ry="1.2"/><ellipse cx="620.2" cy="240.6" rx="1.6" ry="2.4"/><ellipse cx="619.4" cy="248.4" rx="1.3" ry="1.6"/><ellipse cx="598.6" cy="258.6" rx="3.0" ry="1.6"/><ellipse cx="605.2" cy="258.4" rx="1.8" ry="1.0"/></g>
<circle cx="591.0" cy="251.2" r="0.8" fill="#ffffff" opacity="0.85"/><circle cx="622.6" cy="238.4" r="0.8" fill="#ffffff" opacity="0.85"/><circle cx="589.9" cy="245.1" r="0.8" fill="#ffffff" opacity="0.85"/><circle cx="614.6" cy="261.7" r="0.8" fill="#ffffff" opacity="0.85"/><circle cx="594.1" cy="231.5" r="0.8" fill="#ffffff" opacity="0.85"/><circle cx="620.3" cy="254.4" r="0.8" fill="#ffffff" opacity="0.85"/><circle cx="624.7" cy="256.8" r="0.8" fill="#ffffff" opacity="0.85"/><circle cx="603.5" cy="234.4" r="0.8" fill="#ffffff" opacity="0.85"/><circle cx="629.3" cy="243.6" r="0.8" fill="#ffffff" opacity="0.85"/><circle cx="597.5" cy="231.1" r="0.8" fill="#ffffff" opacity="0.85"/><circle cx="614.5" cy="256.2" r="0.8" fill="#ffffff" opacity="0.85"/><circle cx="595.4" cy="243.8" r="0.8" fill="#ffffff" opacity="0.85"/><circle cx="613.1" cy="259.4" r="0.8" fill="#ffffff" opacity="0.85"/><circle cx="624.1" cy="249.1" r="0.8" fill="#ffffff" opacity="0.85"/><circle cx="588.8" cy="253.5" r="0.8" fill="#ffffff" opacity="0.85"/><circle cx="589.5" cy="243.8" r="0.8" fill="#ffffff" opacity="0.85"/>
</g>
<g id="cells-front">
<g transform="translate(543.2 262.7) rotate(20)"><ellipse rx="12.6" ry="9.6" fill="url(#gR)" stroke="#f2641e" stroke-width="1.25"/><ellipse cx="-0.5" cy="0.4" rx="9.6" ry="7.3" fill="url(#gRi)"/><path d="M-4.8,1.2 Q-0.6,4.8 4.8,1.7" fill="none" stroke="#f03a2a" stroke-width="0.9" opacity="0.45"/></g>
<g transform="translate(634.8 274.0) rotate(-15)"><ellipse rx="13.0" ry="8.4" fill="url(#gR)" stroke="#f2641e" stroke-width="1.25"/><ellipse cx="-0.5" cy="0.3" rx="9.9" ry="6.4" fill="url(#gRi)"/><path d="M-4.9,1.0 Q-0.7,4.2 4.9,1.5" fill="none" stroke="#f03a2a" stroke-width="0.9" opacity="0.45"/></g>
</g>
<g id="lines" fill="none" stroke="#262223" stroke-width="0.95" stroke-linecap="butt">
<path d="M121,136.5 L203.6,136.5 L243.4,198.6"/>
<path d="M357.8,169.5 L352.9,217"/>
<path d="M526.8,136 L468,136 L428.6,198.2"/>
<path d="M243.5,307 L243.5,363.6"/>
<path d="M345.6,290 L344.9,364.4"/>
<path d="M446.8,278.2 L446.3,364"/>
<path d="M535.7,308.8 L535.2,364"/>
<path d="M613,265 L632.5,361"/>
</g>
<g id="dots" fill="#0a0a0a">
<circle cx="243.4" cy="198.7" r="2.3"/>
<circle cx="352.9" cy="217" r="2.3"/>
<circle cx="428.4" cy="198.5" r="2.3"/>
<circle cx="243.5" cy="307.1" r="2.3"/>
<circle cx="446.9" cy="278.2" r="2.3"/>
<circle cx="535.7" cy="308.8" r="2.3"/>
<circle cx="613" cy="265" r="2.3"/>
<ellipse cx="345.7" cy="289.6" rx="3.6" ry="1.9" transform="rotate(-12 345.7 289.6)"/>
</g>
<g id="text" opacity="0.999">
<text x="193.49" y="46.5" font-size="34.2" textLength="59.00" lengthAdjust="spacingAndGlyphs" class="b t">The</text>
<text x="259.74" y="46.5" font-size="34.2" textLength="142.17" lengthAdjust="spacingAndGlyphs" class="b t">elements</text>
<text x="408.40" y="46.5" font-size="34.2" textLength="34.91" lengthAdjust="spacingAndGlyphs" class="b t">of</text>
<text x="449.54" y="46.5" font-size="34.2" textLength="91.99" lengthAdjust="spacingAndGlyphs" class="b t">blood</text>
<text x="37.78" y="141.8" font-size="17.8" textLength="67.41" lengthAdjust="spacingAndGlyphs" class="b">Plasma</text>
<text x="37.79" y="162.5" font-size="17.6" textLength="57.95" lengthAdjust="spacingAndGlyphs" class="r">(about</text>
<text x="101.97" y="162.5" font-size="17.6" textLength="43.79" lengthAdjust="spacingAndGlyphs" class="r">55%)</text>
<text x="314.05" y="137.2" font-size="17.8" textLength="81.71" lengthAdjust="spacingAndGlyphs" class="b">Platelets</text>
<text x="334.98" y="158.9" font-size="13.8" textLength="39.72" lengthAdjust="spacingAndGlyphs" class="r">(0,01)</text>
<text x="535.12" y="141.7" font-size="17.8" textLength="33.88" lengthAdjust="spacingAndGlyphs" class="b">Red</text>
<text x="571.41" y="141.7" font-size="17.8" textLength="58.71" lengthAdjust="spacingAndGlyphs" class="b">blood</text>
<text x="633.71" y="141.7" font-size="17.8" textLength="42.43" lengthAdjust="spacingAndGlyphs" class="b">cells</text>
<text x="568.12" y="162.6" font-size="17.6" textLength="58.21" lengthAdjust="spacingAndGlyphs" class="r">(about</text>
<text x="632.18" y="162.6" font-size="17.6" textLength="44.65" lengthAdjust="spacingAndGlyphs" class="r">41%)</text>
<text x="38.22" y="363.4" font-size="17.8" textLength="54.39" lengthAdjust="spacingAndGlyphs" class="b">White</text>
<text x="97.43" y="363.4" font-size="17.8" textLength="56.12" lengthAdjust="spacingAndGlyphs" class="b">blood</text>
<text x="38.72" y="384.5" font-size="17.8" textLength="39.48" lengthAdjust="spacingAndGlyphs" class="b">cells</text>
<text x="83.78" y="384.5" font-size="17.8" textLength="59.89" lengthAdjust="spacingAndGlyphs" class="b">(about</text>
<text x="148.63" y="384.5" font-size="17.8" textLength="45.44" lengthAdjust="spacingAndGlyphs" class="b">4%):</text>
<text x="200.43" y="385.3" font-size="15.6" textLength="91.65" lengthAdjust="spacingAndGlyphs" class="r">Lymphocyte</text>
<text x="312.53" y="385.3" font-size="15.6" textLength="62.31" lengthAdjust="spacingAndGlyphs" class="r">Basophil</text>
<text x="403.07" y="384.6" font-size="15.6" textLength="77.15" lengthAdjust="spacingAndGlyphs" class="r">Eosinophil</text>
<text x="501.48" y="385.8" font-size="15.6" textLength="74.79" lengthAdjust="spacingAndGlyphs" class="r">Monocyte</text>
<text x="595.98" y="385.4" font-size="15.6" textLength="80.41" lengthAdjust="spacingAndGlyphs" class="r">Neutrophil</text>
</g>
</svg></body></html>
